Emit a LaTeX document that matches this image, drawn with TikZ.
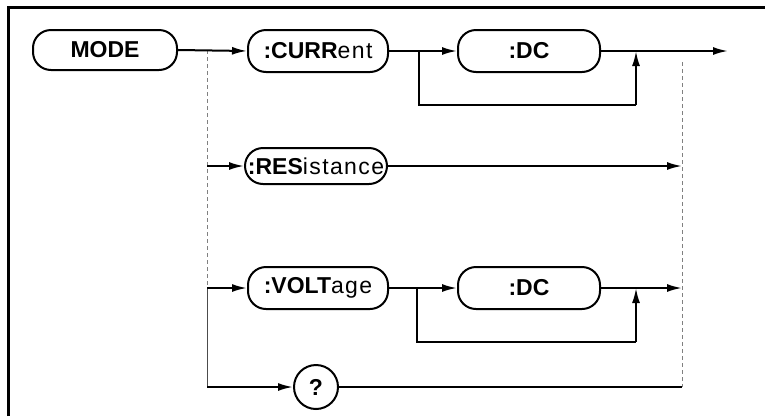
\documentclass[tikz,border=0pt]{standalone}
\usepackage{fontspec}
\setmainfont{Liberation Sans}
\usetikzlibrary{arrows.meta}
\newcommand{\lsp}[1]{{\addfontfeature{LetterSpace=6}#1}}
\begin{document}
\begin{tikzpicture}[x=1pt,y=-1pt,
  kw/.style={draw,line width=2pt,rounded corners=18pt,inner sep=0pt,font=\fontsize{23}{23}\selectfont},
  flow/.style={line width=2pt},
  arr/.style={flow,-{Latex[length=15pt,width=8pt]}},
  guide/.style={line width=0.7pt,gray,dash pattern=on 4pt off 3pt}]
\useasboundingbox (0,0) rectangle (765,416);
\draw[line width=3pt] (8,416) -- (8,7) -- (765,7);
% nodes
\node[kw,minimum width=144pt,minimum height=40pt] (mode) at (105,50) {\bfseries MODE\hspace{14pt}};
\node[kw,minimum width=140pt,minimum height=42pt] (curr) at (318,51) {\textbf{:CURR}\lsp{ent}};
\node[kw,minimum width=142pt,minimum height=42pt] (dca) at (529,51) {\bfseries :DC};
\node[kw,minimum width=142pt,minimum height=36pt] (res) at (316,166) {\textbf{:RES}\lsp{istance}};
\node[kw,minimum width=140pt,minimum height=42pt] (volt) at (318,288) {\textbf{:VOLT}\lsp{age}\hspace{6pt}};
\node[kw,minimum width=142pt,minimum height=42pt] (dcb) at (529,288) {\bfseries :DC};
\node[draw,circle,line width=2pt,minimum size=44pt,inner sep=0pt,font=\fontsize{23}{23}\selectfont\bfseries] (q) at (316,387) {?};
% coordinates
\coordinate (b0) at (207,50);
\coordinate (b1) at (207,166);
\coordinate (b2) at (207,288);
\coordinate (b3) at (207,387);
\coordinate (ea) at (728,51);
\coordinate (er) at (682,166);
\coordinate (ev) at (682,288);
\coordinate (eq) at (682,387);
\coordinate (rt) at (682,62);
\coordinate (sa) at (419,51);
\coordinate (sa1) at (419,105);
\coordinate (sa2) at (636,105);
\coordinate (sa3) at (636,51);
\coordinate (sb) at (417,288);
\coordinate (sb1) at (417,342);
\coordinate (sb2) at (636,342);
\coordinate (sb3) at (636,288);
% guides
\draw[guide] (b0) -- (b2);
\draw[line width=0.8pt,gray!60!black] (b2) -- (b3);
\draw[guide] (rt) -- (eq);
% top row
\draw[arr] (mode.east) -- (curr.west);
\draw[arr] (curr.east) -- (dca.west);
\draw[arr] (dca.east) -- (ea);
\draw[flow] (sa) -- (sa1) -- (sa2);
\draw[arr] (sa2) -- (sa3);
% resistance
\draw[arr] (b1) -- (res.west);
\draw[arr] (res.east) -- (er);
% voltage
\draw[arr] (b2) -- (volt.west);
\draw[arr] (volt.east) -- (dcb.west);
\draw[arr] (dcb.east) -- (ev);
\draw[flow] (sb) -- (sb1) -- (sb2);
\draw[arr] (sb2) -- (sb3);
% query
\draw[arr] (b3) -- (q.west);
\draw[flow] (q.east) -- (eq);
\end{tikzpicture}
\end{document}
